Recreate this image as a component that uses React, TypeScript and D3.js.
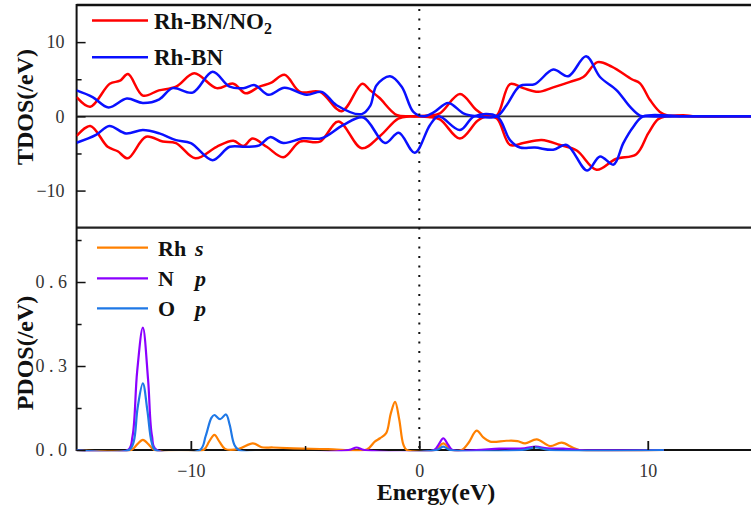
import React, { useEffect, useRef } from 'react';
import * as d3 from 'd3';

type Pt = [number, number];

// TDOS, spin up / spin down, [energy eV, states/eV]
const rhBnNo2Up: Pt[] = [
  [-15, 2.6], [-14.4, 1.3], [-13.55, 4.4], [-13.1, 4.8], [-12.75, 5.7], [-12.1, 2.8], [-11.4, 3.5],
  [-10.65, 4.0], [-9.85, 5.8], [-8.87, 3.8], [-8.14, 4.4], [-7.6, 3.1], [-7.0, 4.0], [-6.5, 4.5],
  [-5.9, 5.6], [-5.22, 3.3], [-4.35, 3.3], [-3.4, 0.7], [-2.5, 4.4], [-2.15, 3.5], [-1.75, 2.5],
  [-1.0, 0.2], [-0.4, 0], [0.4, 0.1], [0.9, 0.4], [1.78, 3.0], [2.5, 0.85], [2.95, 0], [3.39, 0.1],
  [3.97, 4.35], [4.55, 3.8], [5.21, 3.3], [5.86, 3.9], [6.6, 4.65], [7.18, 5.3], [7.8, 7.3],
  [8.42, 6.7], [9.3, 5.0], [9.66, 4.45], [10.1, 2.2], [10.53, 0.6], [10.9, 0.1], [11.55, 0.15],
  [12.1, 0], [13.5, 0], [15, 0],
];
const rhBnNo2Down: Pt[] = [
  [-15, -2.65], [-14.4, -1.3], [-13.64, -4.1], [-13.2, -4.7], [-12.76, -5.65], [-11.96, -2.75],
  [-11.23, -3.4], [-10.65, -3.6], [-9.8, -5.65], [-8.87, -4.1], [-8.14, -3.3], [-7.7, -4.0],
  [-7.3, -3.0], [-6.68, -4.1], [-5.95, -5.5], [-5.22, -3.4], [-4.35, -3.4], [-3.54, -0.7],
  [-2.52, -4.3], [-1.72, -2.65], [-0.92, -0.3], [-0.4, 0], [0.4, -0.1], [0.9, -0.4], [1.78, -3.0],
  [2.55, -0.6], [2.95, 0], [3.4, -0.3], [3.97, -3.85], [4.55, -3.6], [5.36, -3.2], [6.16, -3.85],
  [6.89, -4.6], [7.76, -7.2], [8.6, -5.75], [9.5, -5.1], [10.02, -2.3], [10.45, -0.4], [10.8, 0],
  [12, 0], [13.5, 0], [15, 0],
];
const rhBnUp: Pt[] = [
  [-15, 3.5], [-14.3, 2.6], [-13.6, 1.2], [-12.8, 2.4], [-12.1, 1.8], [-11.38, 2.3], [-10.8, 3.8],
  [-9.92, 3.2], [-9.05, 6.0], [-8.3, 4.0], [-7.7, 3.8], [-7.2, 4.2], [-6.6, 2.9], [-5.9, 3.85],
  [-4.93, 2.9], [-4.27, 3.3], [-3.62, 1.5], [-2.52, 0.3], [-2.15, 1.4], [-1.87, 4.2], [-1.28, 5.4],
  [-0.77, 4.0], [-0.26, 0.6], [0.17, 0], [0.61, 0.5], [1.27, 1.8], [1.93, 0.4], [2.5, 0], [3.39, 0],
  [3.82, 1.5], [4.41, 4.1], [5.06, 4.35], [5.86, 6.3], [6.52, 5.4], [7.3, 8.1], [7.91, 5.3],
  [8.64, 3.5], [9.22, 1.3], [9.66, 0.1], [10, 0], [11.5, 0], [13, 0], [15, 0],
];
const rhBnDown: Pt[] = [
  [-15, -3.55], [-14.15, -2.5], [-13.57, -1.3], [-12.84, -2.3], [-12.1, -1.85], [-11.38, -2.3],
  [-10.65, -3.2], [-10.0, -3.6], [-9.05, -5.9], [-8.3, -4.1], [-7.6, -4.1], [-7.0, -3.9],
  [-6.53, -2.8], [-5.95, -3.6], [-5.08, -2.95], [-4.27, -2.95], [-3.32, -1.15], [-2.45, -0.15],
  [-1.5, -3.6], [-0.9, -2.2], [-0.2, -4.9], [0.47, -1.15], [0.85, 0], [1.78, -1.85], [2.4, 0],
  [3.4, 0], [3.97, -3.2], [4.41, -4.2], [5.06, -4.2], [5.86, -4.5], [6.45, -3.85], [7.35, -7.3],
  [7.91, -5.4], [8.5, -6.5], [8.93, -3.6], [9.37, -1.4], [9.8, 0], [11.5, 0], [13, 0], [15, 0],
];

// PDOS
const rhS: Pt[] = [
  [-15, 0], [-12.6, 0], [-12.35, 0.02], [-12.1, 0.036], [-11.85, 0.02], [-11.6, 0], [-9.45, 0],
  [-9.2, 0.03], [-8.97, 0.054], [-8.75, 0.03], [-8.5, 0.004], [-7.9, 0.004], [-7.29, 0.024],
  [-6.9, 0.01], [-6.4, 0.009], [-5.5, 0.006], [-4, 0.003], [-2.3, 0.002], [-1.95, 0.03],
  [-1.72, 0.042], [-1.45, 0.06], [-1.25, 0.13], [-1.06, 0.172], [-0.88, 0.11], [-0.7, 0.02],
  [-0.55, 0], [0.7, 0], [1.05, 0.024], [1.4, 0], [1.85, 0], [2.15, 0.025], [2.51, 0.069],
  [2.8, 0.045], [3.1, 0.03], [3.82, 0.033], [4.3, 0.032], [4.63, 0.024], [5.14, 0.038],
  [5.72, 0.014], [6.23, 0.026], [7.0, 0], [10.7, 0],
];
const nP: Pt[] = [
  [-15, 0], [-12.75, 0], [-12.55, 0.05], [-12.35, 0.28], [-12.1, 0.437], [-11.87, 0.25],
  [-11.7, 0.05], [-11.5, 0], [-3.1, 0], [-2.75, 0.009], [-2.4, 0], [0.65, 0], [0.85, 0.02],
  [1.05, 0.042], [1.25, 0.02], [1.45, 0], [2.5, 0], [3.5, 0.005], [4.6, 0.006], [5.1, 0.012],
  [5.6, 0.006], [6.3, 0.005], [7.0, 0], [10.7, 0],
];
const oP: Pt[] = [
  [-15, 0], [-12.7, 0], [-12.5, 0.03], [-12.33, 0.15], [-12.1, 0.238], [-11.9, 0.14],
  [-11.72, 0.03], [-11.55, 0], [-9.6, 0], [-9.35, 0.05], [-9.1, 0.115], [-8.97, 0.125],
  [-8.72, 0.11], [-8.46, 0.127], [-8.3, 0.09], [-8.1, 0.02], [-7.9, 0], [0.75, 0], [1.05, 0.012],
  [1.35, 0], [4.5, 0], [5.1, 0.009], [5.7, 0], [10.7, 0],
];

const energyTicks = [-10, 0, 10];
const energyMinor = [-5, 5];
const tdosTicks = [-10, 0, 10];
const tdosMinor = [-5, 5];
const pdosTicks = [0, 0.3, 0.6];
const pdosMinor = [0.15, 0.45, 0.75];

const RED = '#ff0000';
const BLUE = '#0a10ff';
const ORANGE = '#ff8000';
const PURPLE = '#8b00ff';
const SKY = '#1f78e6';
const FONT = '"Liberation Serif", "Times New Roman", serif';

const App = () => {
  const svgRef = useRef<SVGSVGElement>(null);

  useEffect(() => {
    const svg = d3.select(svgRef.current);
    svg.selectAll('*').remove();

    const left = 76.6, right = 762, top = 5, mid = 227.7, bottom = 450;

    const x = d3.scaleLinear().domain([-15, 15]).range([left, right]);
    const yT = d3.scaleLinear().domain([-15, 15]).range([mid, top]);
    const yB = d3.scaleLinear().domain([0, 0.794]).range([bottom, mid]);

    const defs = svg.append('defs');
    defs.append('clipPath').attr('id', 'clipT').append('rect')
      .attr('x', left).attr('y', top).attr('width', right - left).attr('height', mid - top);
    defs.append('clipPath').attr('id', 'clipB').append('rect')
      .attr('x', left).attr('y', mid).attr('width', right - left).attr('height', bottom - mid + 1.2);

    // frame
    svg.append('line').attr('x1', left).attr('x2', 751).attr('y1', top).attr('y2', top)
      .attr('stroke', '#111').attr('stroke-width', 2.5);
    svg.append('line').attr('x1', left).attr('x2', 751).attr('y1', mid).attr('y2', mid)
      .attr('stroke', '#222').attr('stroke-width', 2.2);
    svg.append('line').attr('x1', left).attr('x2', 751).attr('y1', bottom).attr('y2', bottom)
      .attr('stroke', '#111').attr('stroke-width', 1.8);
    svg.append('line').attr('x1', left).attr('x2', left).attr('y1', top - 1).attr('y2', bottom + 1)
      .attr('stroke', '#111').attr('stroke-width', 2);

    // zero line
    svg.append('line').attr('x1', left).attr('x2', 751).attr('y1', yT(0)).attr('y2', yT(0))
      .attr('stroke', '#333').attr('stroke-width', 1.6);

    const curve = d3.curveCatmullRom.alpha(0.5);
    const lineT = d3.line<Pt>().x(d => x(d[0])).y(d => yT(d[1])).curve(curve);
    const lineB = d3.line<Pt>().x(d => x(d[0])).y(d => yB(d[1])).curve(curve);

    const gT = svg.append('g').attr('clip-path', 'url(#clipT)');
    [[rhBnNo2Up, RED], [rhBnNo2Down, RED], [rhBnUp, BLUE], [rhBnDown, BLUE]].forEach(([d, c]) => {
      gT.append('path').datum(d as Pt[]).attr('d', lineT).attr('fill', 'none')
        .attr('stroke', c as string).attr('stroke-width', 2.5).attr('stroke-linejoin', 'round');
    });

    const gB = svg.append('g').attr('clip-path', 'url(#clipB)');
    [[rhS, ORANGE], [nP, PURPLE], [oP, SKY]].forEach(([d, c]) => {
      gB.append('path').datum(d as Pt[]).attr('d', lineB).attr('fill', 'none')
        .attr('stroke', c as string).attr('stroke-width', 2.2).attr('stroke-linejoin', 'round');
    });

    // Fermi level
    svg.append('line').attr('x1', x(0)).attr('x2', x(0)).attr('y1', top + 4).attr('y2', bottom)
      .attr('stroke', '#111').attr('stroke-width', 2).attr('stroke-dasharray', '2 7.5');

    const styleText = (s: any, size: number) => s.selectAll('.tick text')
      .attr('font-family', FONT).attr('font-size', size).attr('fill', '#333');
    const fmtInt = (d: any) => (d < 0 ? `\u2212${Math.abs(d)}` : `${d}`);

    // y axes
    svg.append('g').attr('transform', `translate(${left},0)`)
      .call(d3.axisLeft(yT).tickValues(tdosTicks).tickSize(-9).tickPadding(12).tickFormat(fmtInt))
      .call(s => s.select('.domain').remove())
      .call(s => s.selectAll('.tick line').attr('stroke', '#111').attr('stroke-width', 1.5))
      .call(s => styleText(s, 18));
    svg.append('g').attr('transform', `translate(${left},0)`)
      .call(d3.axisLeft(yT).tickValues(tdosMinor).tickSize(-5).tickFormat(() => ''))
      .call(s => s.select('.domain').remove())
      .call(s => s.selectAll('.tick line').attr('stroke', '#111').attr('stroke-width', 1.5));

    svg.append('g').attr('transform', `translate(${left},0)`)
      .call(d3.axisLeft(yB).tickValues(pdosTicks).tickSize(-9).tickPadding(5).tickFormat(d3.format('.1f')))
      .call(s => s.select('.domain').remove())
      .call(s => s.selectAll('.tick line').attr('stroke', '#111').attr('stroke-width', 1.5))
      .call(s => styleText(s, 18))
      .call(s => s.selectAll('.tick text').attr('letter-spacing', '4.5px'));
    svg.append('g').attr('transform', `translate(${left},0)`)
      .call(d3.axisLeft(yB).tickValues(pdosMinor).tickSize(-5).tickFormat(() => ''))
      .call(s => s.select('.domain').remove())
      .call(s => s.selectAll('.tick line').attr('stroke', '#111').attr('stroke-width', 1.5));

    // x axis
    svg.append('g').attr('transform', `translate(0,${bottom})`)
      .call(d3.axisBottom(x).tickValues(energyTicks).tickSize(-9).tickPadding(14).tickFormat(fmtInt))
      .call(s => s.select('.domain').remove())
      .call(s => s.selectAll('.tick line').attr('stroke', '#111').attr('stroke-width', 1.8))
      .call(s => styleText(s, 18));
    svg.append('g').attr('transform', `translate(0,${bottom})`)
      .call(d3.axisBottom(x).tickValues(energyMinor).tickSize(-4).tickFormat(() => ''))
      .call(s => s.select('.domain').remove())
      .call(s => s.selectAll('.tick line').attr('stroke', '#111').attr('stroke-width', 1.5));

    // axis titles
    const title = (t: string, tx: number, ty: number, rot: number) =>
      svg.append('text').attr('transform', `translate(${tx},${ty}) rotate(${rot})`)
        .attr('text-anchor', 'middle').attr('font-family', FONT).attr('font-weight', 'bold')
        .attr('font-size', 24).attr('fill', '#111').text(t);
    title('TDOS(/eV)', 33, 107, -90);
    title('PDOS(/eV)', 33, 353, -90);
    title('Energy(eV)', 436, 500, 0);

    // legends
    const legTop: [string, string, number][] = [['Rh-BN/NO', RED, 20.5], ['Rh-BN', BLUE, 57.3]];
    legTop.forEach(([lab, c, ly], i) => {
      svg.append('line').attr('x1', 92).attr('x2', 148).attr('y1', ly).attr('y2', ly)
        .attr('stroke', c).attr('stroke-width', 2.5);
      const t = svg.append('text').attr('x', 154).attr('y', ly + 8).attr('font-family', FONT)
        .attr('font-weight', 'bold').attr('font-size', 23).attr('fill', '#111').text(lab);
      if (i === 0) t.append('tspan').attr('dy', 5).attr('font-size', 16).text('2');
    });

    const legBot: [string, string, string, number][] = [
      ['Rh', 's', ORANGE, 247.7], ['N', 'p', PURPLE, 278.3], ['O', 'p', SKY, 308.3],
    ];
    legBot.forEach(([lab, orb, c, ly]) => {
      svg.append('line').attr('x1', 97).attr('x2', 148).attr('y1', ly).attr('y2', ly)
        .attr('stroke', c).attr('stroke-width', 2.2);
      const t = svg.append('text').attr('y', ly + 8).attr('font-family', FONT)
        .attr('font-weight', 'bold').attr('font-size', 22).attr('fill', '#111');
      t.append('tspan').attr('x', 158).text(lab);
      t.append('tspan').attr('x', 195).attr('font-style', 'italic').text(orb);
    });
  }, []);

  return (
    <svg ref={svgRef} width={751} height={508}
      style={{ position: 'absolute', left: 0, top: 0, background: '#fff' }} />
  );
};

export default App;
